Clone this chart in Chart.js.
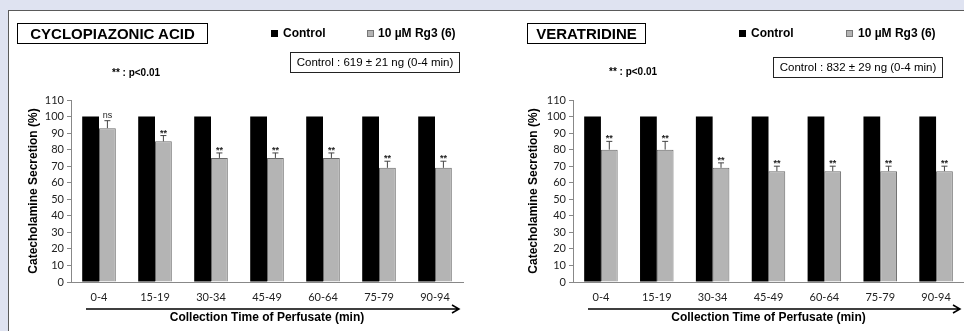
<!DOCTYPE html>
<html>
<head>
<meta charset="utf-8">
<script src="https://cdn.jsdelivr.net/npm/chart.js@4.4.0/dist/chart.umd.min.js"></script>
<style>
  body { margin: 0; width: 964px; height: 331px; overflow: hidden; position: relative;
         background: #dfe3f1; font-family: "Liberation Sans", Arial, sans-serif; color: #000; }
  #panel { position: absolute; left: 8px; top: 10px; width: 1000px; height: 400px;
           background: #fff; border-top: 1px solid #5a5a5a; border-left: 1px solid #5a5a5a; }
  canvas { position: absolute; top: 0; }
  .tbox { position: absolute; height: 19px; border: 1.5px solid #000; font-weight: bold;
          font-size: 15px; line-height: 19px; text-align: center; }
  .leg { position: absolute; font-size: 12px; font-weight: bold; line-height: 14px; white-space: nowrap; }
  .sq { position: absolute; width: 7px; height: 7px; }
  .cbox { position: absolute; width: 168px; height: 19px; border: 1px solid #222;
          font-size: 11.5px; line-height: 19px; text-align: center; white-space: nowrap; }
  .plab { position: absolute; font-size: 10px; font-weight: bold; white-space: nowrap; }
</style>
</head>
<body>
<div id="panel"></div>
<canvas id="cpa" width="482" height="331" style="left:0;width:482px;height:331px"></canvas>
<canvas id="vera" width="482" height="331" style="left:482px;width:482px;height:331px"></canvas>

<div class="tbox" style="left:17px;top:23px;width:189px">CYCLOPIAZONIC ACID</div>
<div class="sq" style="left:271px;top:30px;background:#000"></div>
<div class="leg" style="left:283px;top:26px">Control</div>
<div class="sq" style="left:367px;top:30px;width:5px;height:5px;background:#b4b4b4;border:1px solid #777"></div>
<div class="leg" style="left:378px;top:26px">10 µM Rg3 (6)</div>
<div class="cbox" style="left:290px;top:52px">Control : 619 ± 21 ng (0-4 min)</div>
<div class="plab" style="left:112px;top:67px">** : p&lt;0.01</div>

<div class="tbox" style="left:527px;top:23px;width:117px">VERATRIDINE</div>
<div class="sq" style="left:739px;top:30px;background:#000"></div>
<div class="leg" style="left:751px;top:26px">Control</div>
<div class="sq" style="left:846px;top:30px;width:5px;height:5px;background:#b4b4b4;border:1px solid #777"></div>
<div class="leg" style="left:858px;top:26px">10 µM Rg3 (6)</div>
<div class="cbox" style="left:773px;top:57px">Control : 832 ± 29 ng (0-4 min)</div>
<div class="plab" style="left:609px;top:66px">** : p&lt;0.01</div>

<script>
const timeLabels = ['0-4', '15-19', '30-34', '45-49', '60-64', '75-79', '90-94'];

const cpaControl = [100, 100, 100, 100, 100, 100, 100];
const cpaRg3 = [93, 85, 75, 75, 75, 69, 69];
const cpaRg3Err = [4.5, 3.5, 3, 3, 3, 4, 4];
const cpaSig = ['ns', '**', '**', '**', '**', '**', '**'];

const veraControl = [100, 100, 100, 100, 100, 100, 100];
const veraRg3 = [80, 80, 69, 67, 67, 67, 67];
const veraRg3Err = [5, 5, 3, 3, 3, 3, 3];
const veraSig = ['**', '**', '**', '**', '**', '**', '**'];

const yMin = 0, yMax = 110, yStep = 10;

// error bars (upper only) + significance marks on the Rg3 bars
function errorPlugin(errs, sigs) {
    return {
        id: 'errbars',
        afterDatasetsDraw(chart) {
            const ctx = chart.ctx;
            const y = chart.scales.y;
            const meta = chart.getDatasetMeta(1);
            const vals = chart.data.datasets[1].data;
            ctx.save();
            meta.data.forEach(function(bar, i) {
                const yTop = y.getPixelForValue(vals[i] + errs[i]);
                ctx.strokeStyle = '#444';
                ctx.lineWidth = 1;
                ctx.beginPath();
                ctx.moveTo(bar.x, bar.y);
                ctx.lineTo(bar.x, yTop);
                ctx.moveTo(bar.x - 3, yTop);
                ctx.lineTo(bar.x + 3, yTop);
                ctx.stroke();
                ctx.fillStyle = '#222';
                ctx.textAlign = 'center';
                ctx.textBaseline = 'bottom';
                ctx.font = sigs[i] === 'ns' ? '9px "Liberation Sans"' : 'bold 9px "Liberation Sans"';
                ctx.fillText(sigs[i], bar.x, yTop - (sigs[i] === 'ns' ? 1 : -2));
            });
            ctx.restore();
        }
    };
}

// long arrow under the time labels
const arrowPlugin = {
    id: 'timeArrow',
    afterDraw(chart) {
        const ctx = chart.ctx;
        const a = chart.chartArea;
        const yy = 309;
        const x0 = a.left + 15, x1 = a.right - 4;
        ctx.save();
        ctx.strokeStyle = '#000';
        ctx.lineWidth = 1.5;
        ctx.beginPath();
        ctx.moveTo(x0, yy);
        ctx.lineTo(x1, yy);
        ctx.moveTo(x1 - 7, yy - 4);
        ctx.lineTo(x1, yy);
        ctx.lineTo(x1 - 7, yy + 4);
        ctx.stroke();
        ctx.restore();
    }
};

function makeChart(id, control, rg3, errs, sigs, axisWidth, rightPad, titlePad) {
    const ctx = document.getElementById(id).getContext('2d');
    return new Chart(ctx, {
        type: 'bar',
        data: {
            labels: timeLabels,
            datasets: [
                {
                    label: 'Control',
                    data: control,
                    backgroundColor: '#000',
                    borderWidth: 0,
                    barPercentage: 1,
                    categoryPercentage: 0.6
                },
                {
                    label: '10 µM Rg3 (6)',
                    data: rg3,
                    backgroundColor: '#b4b4b4',
                    borderColor: '#6a6a6a',
                    borderWidth: 1,
                    borderSkipped: 'bottom',
                    barPercentage: 1,
                    categoryPercentage: 0.6
                }
            ]
        },
        options: {
            responsive: false,
            animation: false,
            devicePixelRatio: 1,
            layout: {
                padding: { top: 100, bottom: 0, left: 0, right: rightPad }
            },
            plugins: {
                legend: { display: false },
                title: { display: false },
                tooltip: { enabled: false }
            },
            scales: {
                x: {
                    grid: { display: false, drawTicks: false },
                    border: { display: true, color: '#888', width: 1 },
                    ticks: {
                        padding: 9,
                        color: '#222',
                        font: { family: 'Lato', size: 11 }
                    },
                    title: {
                        display: true,
                        text: 'Collection Time of Perfusate (min)',
                        color: '#000',
                        padding: { top: 0, bottom: 6 },
                        font: { family: 'Liberation Sans', size: 12, weight: 'bold' }
                    },
                    afterFit: function(scale) { scale.height = 49; }
                },
                y: {
                    min: yMin,
                    max: yMax,
                    grid: { drawOnChartArea: false, drawTicks: true, tickLength: 4, color: '#888' },
                    border: { display: true, color: '#888', width: 1 },
                    ticks: {
                        stepSize: yStep,
                        padding: 3,
                        color: '#222',
                        font: { family: 'Lato', size: 11 }
                    },
                    title: {
                        display: true,
                        text: 'Catecholamine Secretion (%)',
                        color: '#000',
                        padding: { top: titlePad, bottom: 0 },
                        font: { family: 'Liberation Sans', size: 12, weight: 'bold' }
                    },
                    afterFit: function(scale) { scale.width = axisWidth; }
                }
            }
        },
        plugins: [errorPlugin(errs, sigs), arrowPlugin]
    });
}

makeChart('cpa', cpaControl, cpaRg3, cpaRg3Err, cpaSig, 71, 19, 26);
makeChart('vera', veraControl, veraRg3, veraRg3Err, veraSig, 91, 0, 44);
</script>
</body>
</html>
